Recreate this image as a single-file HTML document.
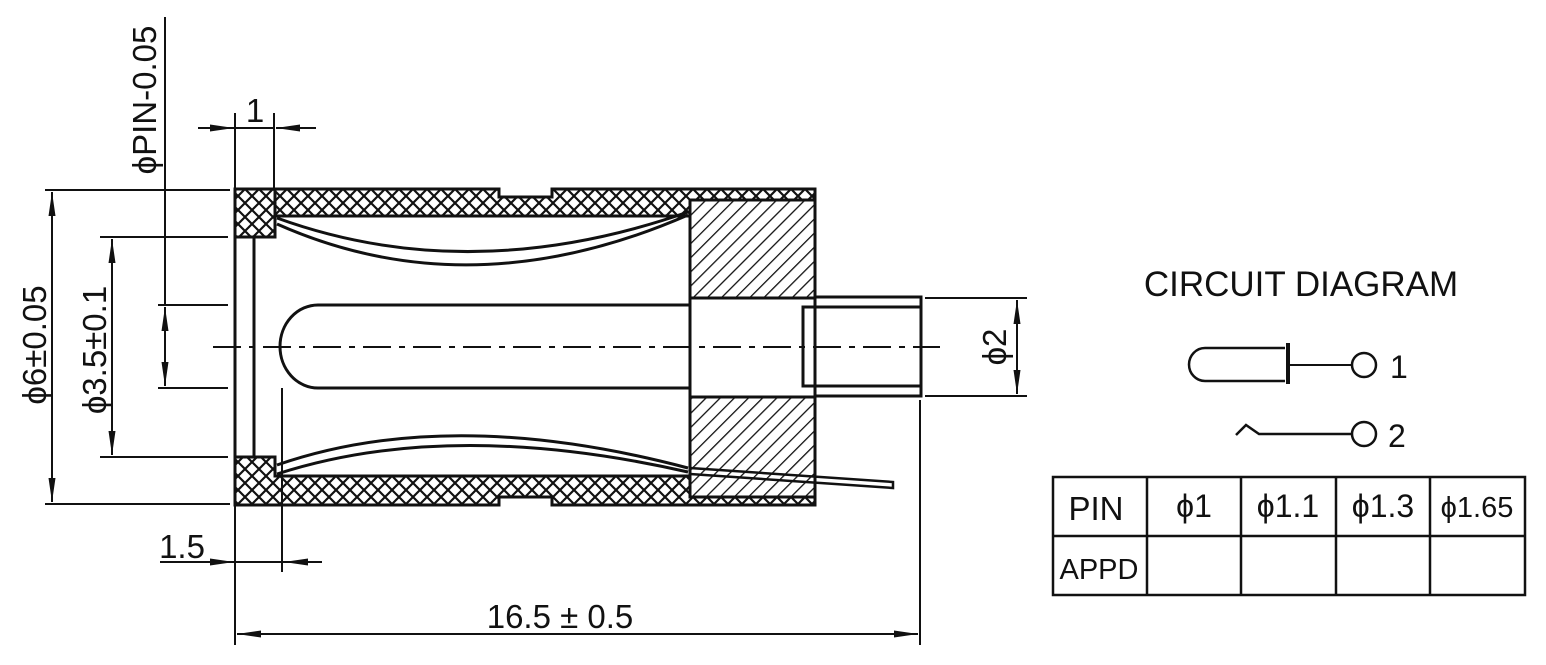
<!DOCTYPE html>
<html><head><meta charset="utf-8"><style>
html,body{margin:0;padding:0;background:#fff;}
svg{display:block;}
text{font-family:"Liberation Sans",Arial,sans-serif;fill:#111;}
</style></head><body>
<svg width="1546" height="665" viewBox="0 0 1546 665" xmlns="http://www.w3.org/2000/svg">
<defs>
<pattern id="xh" width="14" height="14" patternUnits="userSpaceOnUse">
<path d="M0,0L14,14M14,0L0,14" stroke="#111" stroke-width="2.2"/>
</pattern>
<pattern id="dh" width="10" height="10" patternUnits="userSpaceOnUse" patternTransform="rotate(45)">
<path d="M0,0V10" stroke="#111" stroke-width="2.6"/>
</pattern>
<marker id="a" markerWidth="24" markerHeight="10" refX="24" refY="5" orient="auto" markerUnits="userSpaceOnUse">
<path d="M0,1.5L24,5L0,8.5z" fill="#111"/>
</marker>
</defs>
<g stroke="#111" fill="none">
<path d="M235,189H499V197H552V189H815V200H690V216H275V237H235Z" fill="url(#xh)" stroke-width="3"/>
<path d="M235,505H499V497H552V505H815V497H690V476H275V457H235Z" fill="url(#xh)" stroke-width="3"/>
<line x1="275" y1="189" x2="275" y2="237" stroke-width="3"/>
<rect x="690" y="200" width="125" height="98" fill="url(#dh)" stroke-width="3"/>
<rect x="690" y="397" width="125" height="100" fill="url(#dh)" stroke-width="3"/>
<line x1="690" y1="298" x2="690" y2="397" stroke-width="3"/>
<line x1="815" y1="298" x2="815" y2="397" stroke-width="3"/>
<line x1="235" y1="189" x2="235" y2="505" stroke-width="3"/>
<line x1="254" y1="237" x2="254" y2="457" stroke-width="3"/>
<path d="M690,305H318A38,41.5 0 0 0 318,388H690" stroke-width="3"/>
<rect x="815" y="297" width="106" height="99" stroke-width="3"/>
<rect x="803" y="307" width="118" height="79" stroke-width="3"/>
<path d="M277,218Q470,288 688,212" stroke-width="3"/>
<path d="M277,224Q470,310 688,215" stroke-width="3"/>
<path d="M277,465Q450,405 688,468" stroke-width="3"/>
<path d="M277,474Q450,418 688,472" stroke-width="3"/>
<path d="M690,468L893,482L893,488L690,474" stroke-width="2.5"/>
<line x1="213" y1="347" x2="940" y2="347" stroke-width="2" stroke-dasharray="28,8,6,8"/>
<g stroke-width="2">
<line x1="45" y1="190" x2="230" y2="190"/>
<line x1="45" y1="504" x2="230" y2="504"/>
<line x1="100" y1="237" x2="228" y2="237"/>
<line x1="100" y1="457" x2="228" y2="457"/>
<line x1="158" y1="305" x2="228" y2="305"/>
<line x1="158" y1="388" x2="228" y2="388"/>
<line x1="235" y1="113" x2="235" y2="188"/>
<line x1="274" y1="113" x2="274" y2="188"/>
<line x1="235" y1="505" x2="235" y2="645"/>
<line x1="282" y1="388" x2="282" y2="572"/>
<line x1="920" y1="400" x2="920" y2="645"/>
<line x1="925" y1="298" x2="1027" y2="298"/>
<line x1="925" y1="396" x2="1027" y2="396"/>
<line x1="165" y1="17" x2="165" y2="305"/>
<line x1="52" y1="347" x2="52" y2="192" marker-end="url(#a)"/>
<line x1="52" y1="347" x2="52" y2="502" marker-end="url(#a)"/>
<line x1="112" y1="347" x2="112" y2="239" marker-end="url(#a)"/>
<line x1="112" y1="347" x2="112" y2="455" marker-end="url(#a)"/>
<line x1="165" y1="347" x2="165" y2="307" marker-end="url(#a)"/>
<line x1="165" y1="347" x2="165" y2="386" marker-end="url(#a)"/>
<line x1="1017" y1="347" x2="1017" y2="300" marker-end="url(#a)"/>
<line x1="1017" y1="347" x2="1017" y2="394" marker-end="url(#a)"/>
<line x1="198" y1="128" x2="234" y2="128" marker-end="url(#a)"/>
<line x1="316" y1="128" x2="276" y2="128" marker-end="url(#a)"/>
<line x1="234" y1="128" x2="274" y2="128"/>
<line x1="160" y1="562" x2="234" y2="562" marker-end="url(#a)"/>
<line x1="322" y1="562" x2="284" y2="562" marker-end="url(#a)"/>
<line x1="234" y1="562" x2="284" y2="562"/>
<line x1="578" y1="634" x2="237" y2="634" marker-end="url(#a)"/>
<line x1="578" y1="634" x2="918" y2="634" marker-end="url(#a)"/>
</g>
<path d="M1285,348H1205A16,16.5 0 0 0 1205,381H1285" stroke-width="2.5"/>
<line x1="1288" y1="343" x2="1288" y2="384" stroke-width="4"/>
<line x1="1288" y1="365" x2="1352" y2="365" stroke-width="2"/>
<circle cx="1364" cy="365" r="12" stroke-width="2.5"/>
<path d="M1236,435L1246,425L1259,434H1352" stroke-width="2.5"/>
<circle cx="1364" cy="434" r="12" stroke-width="2.5"/>
<rect x="1053" y="477" width="472" height="118" stroke-width="2.5"/>
<line x1="1053" y1="536" x2="1525" y2="536" stroke-width="2.5"/>
<line x1="1147" y1="477" x2="1147" y2="595" stroke-width="2.5"/>
<line x1="1241" y1="477" x2="1241" y2="595" stroke-width="2.5"/>
<line x1="1336" y1="477" x2="1336" y2="595" stroke-width="2.5"/>
<line x1="1430" y1="477" x2="1430" y2="595" stroke-width="2.5"/>
</g>
<g font-size="33">
<text x="255" y="122" text-anchor="middle">1</text>
<text x="182" y="558" text-anchor="middle">1.5</text>
<text x="560" y="628" text-anchor="middle">16.5 ± 0.5</text>
<text transform="translate(156,100) rotate(-90)" text-anchor="middle">ϕPIN-0.05</text>
<text transform="translate(46,345) rotate(-90)" text-anchor="middle">ϕ6±0.05</text>
<text transform="translate(106,350) rotate(-90)" text-anchor="middle">ϕ3.5±0.1</text>
<text transform="translate(1006,347) rotate(-90)" text-anchor="middle">ϕ2</text>
<text x="1301" y="296" text-anchor="middle" font-size="35">CIRCUIT DIAGRAM</text>
<text x="1390" y="378" font-size="32">1</text>
<text x="1388" y="447" font-size="32">2</text>
<text x="1096" y="520" text-anchor="middle" font-size="33">PIN</text>
<text x="1194" y="517" text-anchor="middle" font-size="32">ϕ1</text>
<text x="1288" y="517" text-anchor="middle" font-size="32">ϕ1.1</text>
<text x="1383" y="517" text-anchor="middle" font-size="32">ϕ1.3</text>
<text x="1477" y="517" text-anchor="middle" font-size="29">ϕ1.65</text>
<text x="1099" y="579" text-anchor="middle" font-size="29">APPD</text>
</g>
</svg>
</body></html>
